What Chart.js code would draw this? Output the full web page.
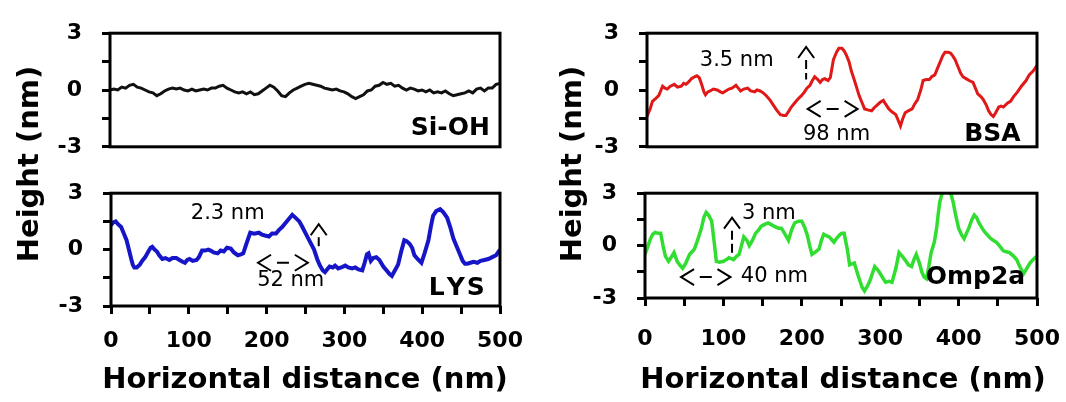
<!DOCTYPE html>
<html>
<head>
<meta charset="utf-8">
<script src="https://cdn.jsdelivr.net/npm/chart.js@4.4.0/dist/chart.umd.min.js"></script>
<style>
html,body{margin:0;padding:0;background:#fff;}
#wrap{position:relative;width:1066px;height:402px;overflow:hidden;}
canvas{position:absolute;}
.ttl{position:absolute;font:bold 29px "DejaVu Sans";color:#000;white-space:nowrap;text-align:center;}
.yt{width:240px;height:36px;line-height:36px;transform:rotate(-90deg);}
.xt{width:460px;height:36px;line-height:36px;}
</style>
</head>
<body>
<div id="wrap">
  <canvas id="siohChart" width="560" height="180" style="left:0;top:0"></canvas>
  <canvas id="lysChart" width="560" height="242" style="left:0;top:160px"></canvas>
  <canvas id="bsaChart" width="560" height="180" style="left:533px;top:0"></canvas>
  <canvas id="ompChart" width="560" height="242" style="left:533px;top:160px"></canvas>

  <div class="ttl yt" style="left:-92px;top:146px">Height (nm)</div>
  <div class="ttl yt" style="left:451px;top:146px">Height (nm)</div>
  <div class="ttl xt" style="left:75px;top:360px">Horizontal distance (nm)</div>
  <div class="ttl xt" style="left:613px;top:360px">Horizontal distance (nm)</div>
</div>

<script>
// =========================
// DATA
// =========================

const xTickLabels = [0,100,200,300,400,500];
const yTickLabels = [-3,0,3];

const siohX = [0,5,10,15,20,25,30,35,40,45,50,55,60,65,70,75,80,85,90,95,
100,105,110,115,120,125,130,135,140,145,150,155,160,165,170,175,180,185,190,195,
200,205,210,215,220,225,230,235,240,245,250,255,260,265,270,275,280,285,290,295,
300,305,310,315,320,325,330,335,340,345,350,355,360,365,370,375,380,385,390,395,
400,405,410,415,420,425,430,435,440,445,450,455,460,465,470,475,480,485,490,495,500];
const siohY = [0,0.05,0,0.15,0.1,0.25,0.3,0.15,0.1,0,-0.1,-0.15,-0.3,-0.2,-0.05,0.05,0.1,0.05,0.1,0,
-0.05,0.05,-0.05,0,0.05,0,0.1,0.1,0.2,0.25,0.1,0,-0.1,-0.15,-0.1,-0.2,-0.1,-0.25,-0.2,-0.05,
0.1,0.25,0.15,-0.05,-0.3,-0.35,-0.15,0,0.1,0.2,0.3,0.35,0.3,0.25,0.2,0.1,0.05,0,0.05,-0.05,
-0.1,-0.2,-0.35,-0.45,-0.35,-0.25,-0.05,0,0.2,0.25,0.4,0.3,0.35,0.2,0.25,0.1,0,0.1,0.05,-0.05,
0,-0.1,0,-0.15,-0.1,-0.15,-0.05,-0.2,-0.3,-0.25,-0.2,-0.15,-0.05,-0.15,0.05,0.1,-0.05,0.1,0.1,0.3,0.35];

const lysX = [0,3,6,9,13,17,20,23,26,28,30,33,37,40,44,48,51,53,56,59,62,66,70,75,79,84,88,92,95,98,
101,105,110,113,117,121,125,128,132,137,141,145,149,154,158,163,167,170,174,179,184,190,194,198,
203,207,212,216,220,224,228,233,237,242,246,251,256,261,265,268,272,275,278,281,285,288,292,296,
301,305,310,314,318,323,326,329,331,334,337,341,345,350,354,358,361,365,369,373,377,380,384,387,390,394,399,
403,408,411,414,418,423,427,432,436,440,443,447,452,455,458,462,466,471,475,480,485,490,495,500];
const lysY = [1.3,1.45,1.5,1.35,1.2,0.8,0.5,0,-0.5,-0.8,-0.95,-0.95,-0.8,-0.6,-0.4,-0.1,0.1,0.15,0,-0.1,-0.3,-0.5,-0.45,-0.55,-0.45,-0.45,-0.55,-0.65,-0.7,-0.55,
-0.5,-0.6,-0.55,-0.4,-0.05,-0.05,0,-0.05,-0.15,-0.2,-0.05,-0.1,0.1,0.05,-0.15,-0.3,-0.25,-0.2,0.3,0.9,0.85,0.9,0.8,0.75,
0.7,0.85,0.85,1.05,1.2,1.4,1.6,1.85,1.7,1.5,1.2,0.8,0.4,0,-0.5,-0.8,-1.1,-1.2,-1.05,-0.9,-0.95,-0.85,-1,-0.95,
-0.85,-0.95,-1,-0.95,-1.05,-1.1,-0.7,-0.25,-0.2,-0.6,-0.45,-0.4,-0.55,-0.9,-1.1,-1.3,-1.4,-1.1,-0.8,-0.1,0.5,0.45,0.3,0.1,-0.3,-0.5,-0.7,
-0.2,0.5,1.2,1.8,2.05,2.15,2,1.7,1.2,0.6,0.3,-0.1,-0.6,-0.75,-0.75,-0.7,-0.65,-0.7,-0.6,-0.55,-0.5,-0.4,-0.3,0];

const bsaX = [0,4,7,11,15,18,20,23,26,30,35,39,44,47,50,54,57,61,64,67,70,73,75,78,81,85,90,94,97,
101,105,109,114,117,120,124,129,133,138,141,145,149,153,158,162,166,171,175,178,182,185,189,193,198,
202,205,209,212,215,219,222,225,228,232,235,239,243,246,250,253,256,259,262,266,269,272,276,279,283,288,291,295,299,
303,306,310,314,319,322,325,328,331,335,340,343,347,351,354,358,362,365,369,372,376,379,382,386,389,392,395,399,
402,405,409,413,418,421,424,428,431,435,438,441,444,447,451,454,457,462,466,470,475,480,486,490,495,500];
const bsaY = [-1.4,-1,-0.6,-0.45,-0.3,0,0.2,0.1,0.05,0.2,0.3,0.15,0.2,0.35,0.3,0.45,0.6,0.7,0.75,0.65,0.3,-0.1,-0.25,-0.1,-0.05,0.05,0,-0.1,-0.15,
-0.05,0.05,0.1,0.25,0.1,-0.05,0.05,0.1,-0.05,-0.1,0,-0.05,-0.15,-0.3,-0.55,-0.8,-1.05,-1.3,-1.35,-1.35,-1.1,-0.9,-0.7,-0.5,-0.3,
-0.1,0.1,0.25,0.5,0.7,0.55,0.4,0.55,0.6,0.5,0.65,1.6,2,2.2,2.2,2.05,1.8,1.5,1,0.5,0.1,-0.3,-0.7,-1,-1.05,-1.1,-0.95,-0.8,-0.65,
-0.55,-0.75,-1,-1.15,-1.3,-1.6,-1.9,-1.5,-1.2,-1.1,-1,-0.75,-0.5,0,0.5,0.55,0.55,0.7,0.8,1.1,1.5,1.8,2,2,1.95,1.8,1.6,1.2,
0.9,0.7,0.6,0.5,0.4,0.1,-0.2,-0.35,-0.5,-0.8,-1.1,-1.3,-1.4,-1.2,-0.9,-0.85,-0.9,-0.7,-0.6,-0.35,-0.1,0.2,0.5,0.8,1,1.3];

const ompX = [0,4,7,10,13,17,20,23,26,30,33,37,41,45,48,52,57,60,63,67,72,75,78,81,85,88,91,95,
100,104,107,110,113,117,120,123,126,130,133,137,141,145,148,152,157,161,165,170,174,178,183,187,191,196,
200,204,207,210,213,218,222,225,228,232,235,238,241,245,248,251,254,258,261,264,267,271,274,277,280,284,287,290,293,297,
300,304,307,311,315,320,324,328,333,336,340,343,346,350,353,356,359,362,365,369,372,374,376,379,381,384,387,390,393,396,
400,404,407,410,413,417,420,423,426,430,433,437,440,444,448,452,457,461,465,470,474,478,483,487,491,495,500];
const ompY = [-0.5,0,0.4,0.65,0.75,0.7,0.7,0,-0.6,-0.9,-0.7,-0.4,-0.9,-1.15,-1.3,-1,-0.5,-0.35,-0.2,0.3,1,1.6,1.9,1.75,1.4,0.3,-0.9,-0.95,
-0.9,-0.8,-0.7,-0.75,-0.8,-0.6,-0.5,0,0.5,0.3,0,0.3,0.7,0.9,1.1,1.2,1.3,1.2,1.1,1,1,0.7,0.3,0.9,1.3,1.4,
1.4,1,0.6,0,-0.5,-0.35,-0.2,0.3,0.65,0.55,0.5,0.35,0.2,0.45,0.6,0.7,0.7,-0.2,-1.1,-1.05,-1,-1.6,-2,-2.4,-2.6,-2.3,-2,-1.6,-1.2,-1.4,
-1.6,-1.9,-2.1,-2.05,-2.1,-1.3,-0.4,-0.6,-0.9,-1.1,-1.2,-0.8,-0.5,-1,-1.5,-1.8,-1.9,-1.2,-0.4,0.2,1,1.8,2.5,3,3.4,3.4,3.4,3,2.5,1.8,
1,0.6,0.4,0.7,1,1.5,1.75,1.6,1.3,1,0.8,0.6,0.45,0.3,0.2,0,-0.3,-0.35,-0.4,-0.6,-0.8,-1.2,-1.6,-1.3,-1,-0.8,-0.6];

// =========================
// PLUGINS
// =========================

const boxPlugin = {
    id:"box",
    afterDraw(chart){
        const {ctx, chartArea:a} = chart;
        ctx.save();
        ctx.strokeStyle = "#000";
        ctx.lineWidth = 3;
        ctx.strokeRect(a.left, a.top, a.right - a.left, a.bottom - a.top);
        ctx.restore();
    }
};

const notesPlugin = {
    id:"notes",
    afterDraw(chart, args, opts){
        const ctx = chart.ctx;
        const sx = chart.scales.x, sy = chart.scales.y;
        ctx.save();
        ctx.fillStyle = "#000";
        ctx.strokeStyle = "#000";
        ctx.lineWidth = 2;
        (opts.items || []).forEach(n => {
            if(n.text){
                ctx.font = n.font;
                ctx.fontKerning = "none";
                ctx.letterSpacing = n.spacing || "0px";
                ctx.textAlign = n.align || "center";
                ctx.textBaseline = "middle";
                ctx.fillText(n.text, sx.getPixelForValue(n.x), sy.getPixelForValue(n.y));
                ctx.letterSpacing = "0px";
            }
            if(n.up){
                const x = sx.getPixelForValue(n.x);
                const y0 = sy.getPixelForValue(n.y0);
                const y1 = sy.getPixelForValue(n.y1);
                ctx.beginPath();
                ctx.moveTo(x - 8, y0 + 11);
                ctx.lineTo(x, y0);
                ctx.lineTo(x + 8, y0 + 11);
                ctx.stroke();
                ctx.setLineDash([9,4]);
                ctx.beginPath();
                ctx.moveTo(x, y0 + 13);
                ctx.lineTo(x, y1);
                ctx.stroke();
                ctx.setLineDash([]);
            }
            if(n.lr){
                const x0 = sx.getPixelForValue(n.x0);
                const x1 = sx.getPixelForValue(n.x1);
                const y = sy.getPixelForValue(n.y);
                const cx = (x0 + x1) / 2;
                ctx.beginPath();
                ctx.moveTo(x0 + 13, y - 8); ctx.lineTo(x0, y); ctx.lineTo(x0 + 13, y + 8);
                ctx.moveTo(x1 - 13, y - 8); ctx.lineTo(x1, y); ctx.lineTo(x1 - 13, y + 8);
                ctx.moveTo(cx - 6, y); ctx.lineTo(cx + 6, y);
                ctx.stroke();
            }
        });
        ctx.restore();
    }
};

// =========================
// PANEL
// =========================

const tickFont = {family:"DejaVu Sans", weight:"bold", size:22};
const labelFont = 'bold 25px "DejaVu Sans"';
const noteFont = '21px "DejaVu Sans"';

function panel(id, xs, ys, color, width, box, notes){

    const pts = xs.map((x, i) => ({x:x, y:ys[i]}));

    return new Chart(document.getElementById(id), {

        type:"line",

        data:{
            datasets:[{
                data:pts,
                borderColor:color,
                borderWidth:width,
                pointRadius:0,
                tension:0,
                fill:false
            }]
        },

        options:{
            responsive:false,
            animation:false,
            events:[],
            layout:{
                padding:{top:box.top, right:box.right, bottom:box.bottom, left:0}
            },
            plugins:{
                legend:{display:false},
                tooltip:{enabled:false},
                notes:{items:notes}
            },
            scales:{
                x:{
                    type:"linear",
                    min:0,
                    max:500,
                    display:box.showX,
                    border:{display:false},
                    grid:{
                        drawOnChartArea:false,
                        tickLength:8,
                        tickWidth:3,
                        tickColor:"#000"
                    },
                    ticks:{
                        stepSize:50,
                        autoSkip:false,
                        maxRotation:0,
                        padding:box.xPad,
                        color:"#000",
                        font:tickFont,
                        callback:v => xTickLabels.includes(v) ? v : ""
                    },
                    afterFit:s => { s.height = box.xH; }
                },
                y:{
                    min:-3,
                    max:3,
                    border:{display:false},
                    grid:{
                        drawOnChartArea:false,
                        tickLength:8,
                        tickWidth:3,
                        tickColor:"#000"
                    },
                    ticks:{
                        stepSize:1.5,
                        autoSkip:false,
                        padding:20,
                        color:"#000",
                        font:tickFont,
                        callback:v => yTickLabels.includes(v) ? v : ""
                    },
                    afterFit:s => { s.width = box.yW; }
                }
            }
        },

        plugins:[boxPlugin, notesPlugin]
    });
}

// =========================
// SI-OH
// =========================

panel("siohChart", siohX, siohY, "#111111", 3,
    {top:26, right:60, bottom:28, showX:false, xH:0, xPad:0, yW:110},
    [
        {text:"Si-OH", x:487, y:-2.05, font:labelFont, align:"right"}
    ]);

// =========================
// LYS
// =========================

panel("lysChart", lysX, lysY, "#1616c8", 4,
    {top:21, right:60, bottom:0, showX:true, xH:96, xPad:14, yW:111},
    [
        {text:"2.3 nm", x:150, y:1.9, font:noteFont},
        {up:true, x:267, y0:1.35, y1:0.15},
        {lr:true, x0:189, x1:253, y:-0.7},
        {text:"52 nm", x:231, y:-1.65, font:noteFont},
        {text:"LYS", x:483, y:-2.05, font:labelFont, align:"right", spacing:"2px"}
    ]);

// =========================
// BSA
// =========================

panel("bsaChart", bsaX, bsaY, "#e01818", 3,
    {top:26, right:56, bottom:28, showX:false, xH:0, xPad:0, yW:114},
    [
        {text:"3.5 nm", x:115, y:1.57, font:noteFont},
        {up:true, x:204, y0:2.27, y1:0.55},
        {lr:true, x0:206, x1:270, y:-1.0},
        {text:"98 nm", x:243, y:-2.35, font:noteFont},
        {text:"BSA", x:479, y:-2.35, font:labelFont, align:"right"}
    ]);

// =========================
// OMP2A
// =========================

panel("ompChart", ompX, ompY, "#30dd30", 3.5,
    {top:21, right:56, bottom:0, showX:true, xH:104, xPad:20, yW:112},
    [
        {text:"3 nm", x:158, y:1.85, font:noteFont},
        {up:true, x:111, y0:1.6, y1:-0.55},
        {lr:true, x0:46, x1:109, y:-1.8},
        {text:"40 nm", x:165, y:-1.8, font:noteFont},
        {text:"Omp2a", x:485, y:-1.85, font:labelFont, align:"right"}
    ]);
</script>
</body>
</html>
